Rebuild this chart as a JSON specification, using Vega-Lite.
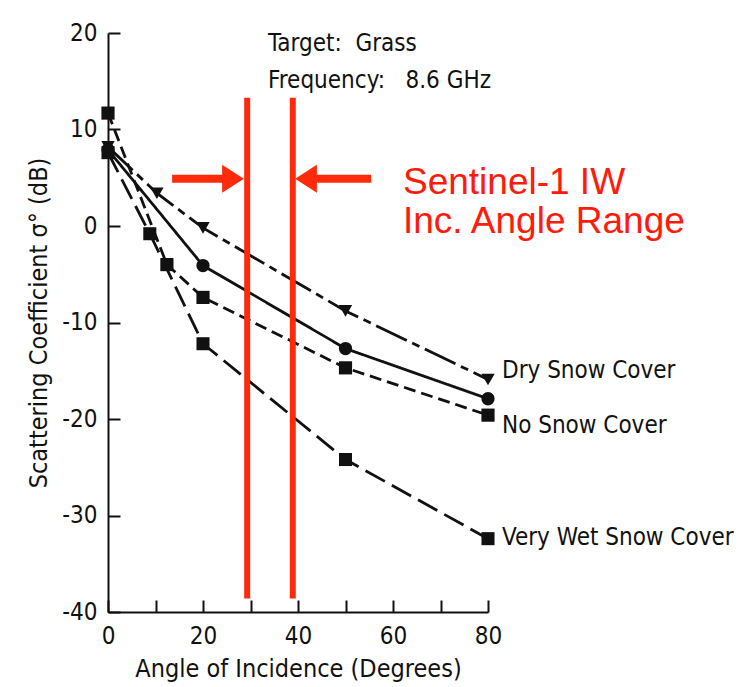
{
  "$schema": "https://vega.github.io/schema/vega-lite/v6.json",
  "width": 380,
  "height": 579,
  "autosize": "none",
  "padding": {"left": 108, "top": 33, "right": 263, "bottom": 75},
  "background": "white",
  "config": {
    "view": {"stroke": null},
    "font": "DejaVu Sans Condensed, DejaVu Sans, sans-serif",
    "axis": {
      "domainColor": "#111",
      "domainWidth": 2,
      "tickColor": "#111",
      "tickWidth": 2,
      "tickSize": -12,
      "grid": false,
      "labelFlush": false,
      "labelColor": "#111",
      "labelFontSize": 24,
      "titleColor": "#111",
      "titleFontSize": 25,
      "titleFontWeight": "normal"
    }
  },
  "datasets": {
    "curves": [
      {"series": "Dry Snow Cover", "angle": 0, "sigma": 8.2},
      {"series": "Dry Snow Cover", "angle": 10.3, "sigma": 3.4},
      {"series": "Dry Snow Cover", "angle": 20, "sigma": -0.2},
      {"series": "Dry Snow Cover", "angle": 50, "sigma": -8.8},
      {"series": "Dry Snow Cover", "angle": 80, "sigma": -15.9},
      {"series": "Wet Snow Cover", "angle": 0, "sigma": 7.9},
      {"series": "Wet Snow Cover", "angle": 20, "sigma": -4.1},
      {"series": "Wet Snow Cover", "angle": 50, "sigma": -12.7},
      {"series": "Wet Snow Cover", "angle": 80, "sigma": -17.9},
      {"series": "No Snow Cover", "angle": 0, "sigma": 11.7},
      {"series": "No Snow Cover", "angle": 12.4, "sigma": -4.0},
      {"series": "No Snow Cover", "angle": 20, "sigma": -7.4},
      {"series": "No Snow Cover", "angle": 50, "sigma": -14.7},
      {"series": "No Snow Cover", "angle": 80, "sigma": -19.6},
      {"series": "Very Wet Snow Cover", "angle": 0, "sigma": 7.6},
      {"series": "Very Wet Snow Cover", "angle": 8.8, "sigma": -0.8},
      {"series": "Very Wet Snow Cover", "angle": 20, "sigma": -12.2},
      {"series": "Very Wet Snow Cover", "angle": 50, "sigma": -24.2},
      {"series": "Very Wet Snow Cover", "angle": 80, "sigma": -32.4}
    ],
    "curve_labels": [
      {"text": "Dry Snow Cover", "angle": 80, "sigma": -15.0},
      {"text": "No Snow Cover", "angle": 80, "sigma": -20.7},
      {"text": "Very Wet Snow Cover", "angle": 80, "sigma": -32.3}
    ],
    "notes": [
      {"text": "Target:\u00a0\u00a0Grass", "angle": 33.7, "sigma": 18.9},
      {"text": "Frequency:\u00a0\u00a0\u00a08.6 GHz", "angle": 33.7, "sigma": 15.0}
    ],
    "iw_range": [
      {"angle": 29.3, "top": 13.3, "bottom": -38.6},
      {"angle": 38.9, "top": 13.3, "bottom": -38.6}
    ],
    "arrows": [
      {"side": "left", "tail": 13.5, "base": 24.4, "tip": 28.6, "level": 4.9},
      {"side": "right", "tail": 55.4, "base": 43.6, "tip": 39.4, "level": 4.9}
    ],
    "iw_text": [
      {"text": "Sentinel-1 IW", "angle": 62.1, "sigma": 4.5},
      {"text": "Inc. Angle Range", "angle": 62.1, "sigma": 0.4}
    ]
  },
  "layer": [
    {
      "data": {"name": "curves"},
      "mark": {"type": "line", "color": "#111", "strokeWidth": 2.8, "strokeCap": "butt"},
      "encoding": {
        "x": {
          "field": "angle", "type": "quantitative",
          "scale": {"domain": [0, 80], "nice": false, "zero": false},
          "axis": {
            "title": "Angle of Incidence (Degrees)",
            "values": [0, 10, 20, 30, 40, 50, 60, 70, 80],
            "labelExpr": "datum.value % 20 == 0 ? '' + datum.value : ''",
            "labelPadding": 24,
            "titlePadding": 8
          }
        },
        "y": {
          "field": "sigma", "type": "quantitative",
          "scale": {"domain": [-40, 20], "nice": false, "zero": false},
          "axis": {
            "title": "Scattering Coefficient σ° (dB)",
            "values": [-40, -30, -20, -10, 0, 10, 20],
            "labelExpr": "'' + datum.value",
            "labelPadding": 23,
            "titlePadding": 10
          }
        },
        "detail": {"field": "series"},
        "strokeDash": {
          "field": "series", "type": "nominal", "legend": null,
          "scale": {
            "domain": ["Dry Snow Cover", "Wet Snow Cover", "No Snow Cover", "Very Wet Snow Cover"],
            "range": [[34, 6, 8, 6], [1, 0], [12, 6], [22, 8]]
          }
        }
      }
    },
    {
      "data": {"name": "curves"},
      "mark": {"type": "point", "filled": true, "color": "#111", "opacity": 1},
      "encoding": {
        "x": {"field": "angle", "type": "quantitative"},
        "y": {"field": "sigma", "type": "quantitative"},
        "shape": {
          "field": "series", "type": "nominal", "legend": null,
          "scale": {
            "domain": ["Dry Snow Cover", "Wet Snow Cover", "No Snow Cover", "Very Wet Snow Cover"],
            "range": ["triangle-down", "circle", "square", "square"]
          }
        },
        "size": {
          "field": "series", "type": "nominal", "legend": null,
          "scale": {
            "domain": ["Dry Snow Cover", "Wet Snow Cover", "No Snow Cover", "Very Wet Snow Cover"],
            "range": [180, 170, 120, 75]
          }
        }
      }
    },
    {
      "data": {"name": "curve_labels"},
      "mark": {"type": "text", "align": "left", "baseline": "middle", "dx": 14, "fontSize": 24, "color": "#111"},
      "encoding": {
        "x": {"field": "angle", "type": "quantitative"},
        "y": {"field": "sigma", "type": "quantitative"},
        "text": {"field": "text"}
      }
    },
    {
      "data": {"name": "notes"},
      "mark": {"type": "text", "align": "left", "baseline": "middle", "fontSize": 24, "color": "#111"},
      "encoding": {
        "x": {"field": "angle", "type": "quantitative"},
        "y": {"field": "sigma", "type": "quantitative"},
        "text": {"field": "text"}
      }
    },
    {
      "data": {"name": "iw_range"},
      "mark": {"type": "rule", "color": "#ff2a0a", "strokeWidth": 6, "strokeCap": "butt"},
      "encoding": {
        "x": {"field": "angle", "type": "quantitative"},
        "y": {"field": "top", "type": "quantitative"},
        "y2": {"field": "bottom"}
      }
    },
    {
      "data": {"name": "arrows"},
      "mark": {"type": "rule", "color": "#ff2a0a", "strokeWidth": 8, "strokeCap": "butt"},
      "encoding": {
        "x": {"field": "tail", "type": "quantitative"},
        "x2": {"field": "base"},
        "y": {"field": "level", "type": "quantitative"}
      }
    },
    {
      "data": {"name": "arrows"},
      "transform": [{"filter": "datum.side == 'left'"}],
      "mark": {"type": "point", "filled": true, "color": "#ff2a0a", "opacity": 1, "size": 784, "shape": "M-1.55,-1L0,0L-1.55,1Z"},
      "encoding": {
        "x": {"field": "tip", "type": "quantitative"},
        "y": {"field": "level", "type": "quantitative"}
      }
    },
    {
      "data": {"name": "arrows"},
      "transform": [{"filter": "datum.side == 'right'"}],
      "mark": {"type": "point", "filled": true, "color": "#ff2a0a", "opacity": 1, "size": 784, "shape": "M1.55,-1L0,0L1.55,1Z"},
      "encoding": {
        "x": {"field": "tip", "type": "quantitative"},
        "y": {"field": "level", "type": "quantitative"}
      }
    },
    {
      "data": {"name": "iw_text"},
      "mark": {"type": "text", "align": "left", "baseline": "middle", "fontSize": 37, "color": "#ff1a0a", "font": "Liberation Sans, Arial, sans-serif"},
      "encoding": {
        "x": {"field": "angle", "type": "quantitative"},
        "y": {"field": "sigma", "type": "quantitative"},
        "text": {"field": "text"}
      }
    }
  ]
}
